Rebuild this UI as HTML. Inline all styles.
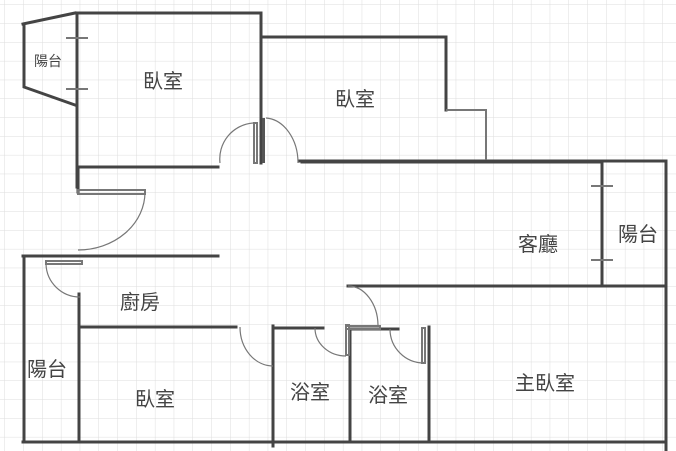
<!DOCTYPE html>
<html><head><meta charset="utf-8"><style>
body{margin:0;background:#fff}
svg{display:block}
text{font-family:"Liberation Sans","Noto Sans CJK TC",sans-serif;fill:#444;text-anchor:middle;dominant-baseline:central}
</style></head><body>
<svg width="676" height="451" viewBox="0 0 676 451">
<defs><pattern id="g" x="5" y="5" width="18.8" height="18.8" patternUnits="userSpaceOnUse">
<path d="M18.8 0V18.8H0" fill="none" stroke="#ddd" stroke-width="1"/></pattern></defs>
<rect width="676" height="451" fill="url(#g)"/>
<g stroke="#444" stroke-width="3" fill="none" stroke-linecap="square">
<path d="M23 24L75 13M24 24V87L75 105"/>
<path d="M77 13H260M77 13V187M261 13V163M77 167H218"/>
<path d="M261 37H446V110M302 162H600"/>
<path d="M300 161H666V451M602 162V285M348 286H663"/>
<path d="M78 167V192M23 256H218M24 258V442M79 294V442M81 327H236"/>
<path d="M273 326V446M273 328H323M350 329H398M350 329V442M429 327V442M23 442H666"/>
</g>
<g stroke="#777" stroke-width="2" fill="none">
<path d="M446 110H486V160"/>
<path d="M66 38H88M66 89H88M591 186H613M591 260H613"/>
<rect x="254" y="123" width="3" height="40"/><rect x="78" y="190" width="67" height="4"/>
<rect x="46" y="261" width="36" height="3"/><rect x="346" y="325" width="3" height="30"/>
<rect x="346" y="326" width="34" height="3"/><rect x="422" y="328" width="3" height="35"/>
</g>
<rect x="262" y="118" width="3" height="45" fill="#555"/>
<g stroke="#777" stroke-width="1.2" fill="none">
<path d="M220 163A36 36 0 0 1 253 123"/>
<path d="M266 118A34 45 0 0 1 298 163"/>
<path d="M145 192A67 58 0 0 1 78 250"/>
<path d="M46 264A34 34 0 0 0 80 297"/>
<path d="M348 286A30 40 0 0 1 378 325"/>
<path d="M240 327A33 39 0 0 0 273 366"/>
<path d="M315 328A31 28 0 0 0 346 356"/>
<path d="M390 329A34 34 0 0 0 424 363"/>
</g>
<text x="48" y="61" font-size="14">陽台</text>
<text x="163" y="82" font-size="20">臥室</text>
<text x="355" y="100" font-size="20">臥室</text>
<text x="538" y="245" font-size="20">客廳</text>
<text x="638" y="235" font-size="20">陽台</text>
<text x="140" y="303" font-size="20">廚房</text>
<text x="47" y="370" font-size="20">陽台</text>
<text x="155" y="400" font-size="20">臥室</text>
<text x="310" y="393" font-size="20">浴室</text>
<text x="388" y="396" font-size="20">浴室</text>
<text x="545" y="384" font-size="20">主臥室</text>
</svg>
</body></html>
